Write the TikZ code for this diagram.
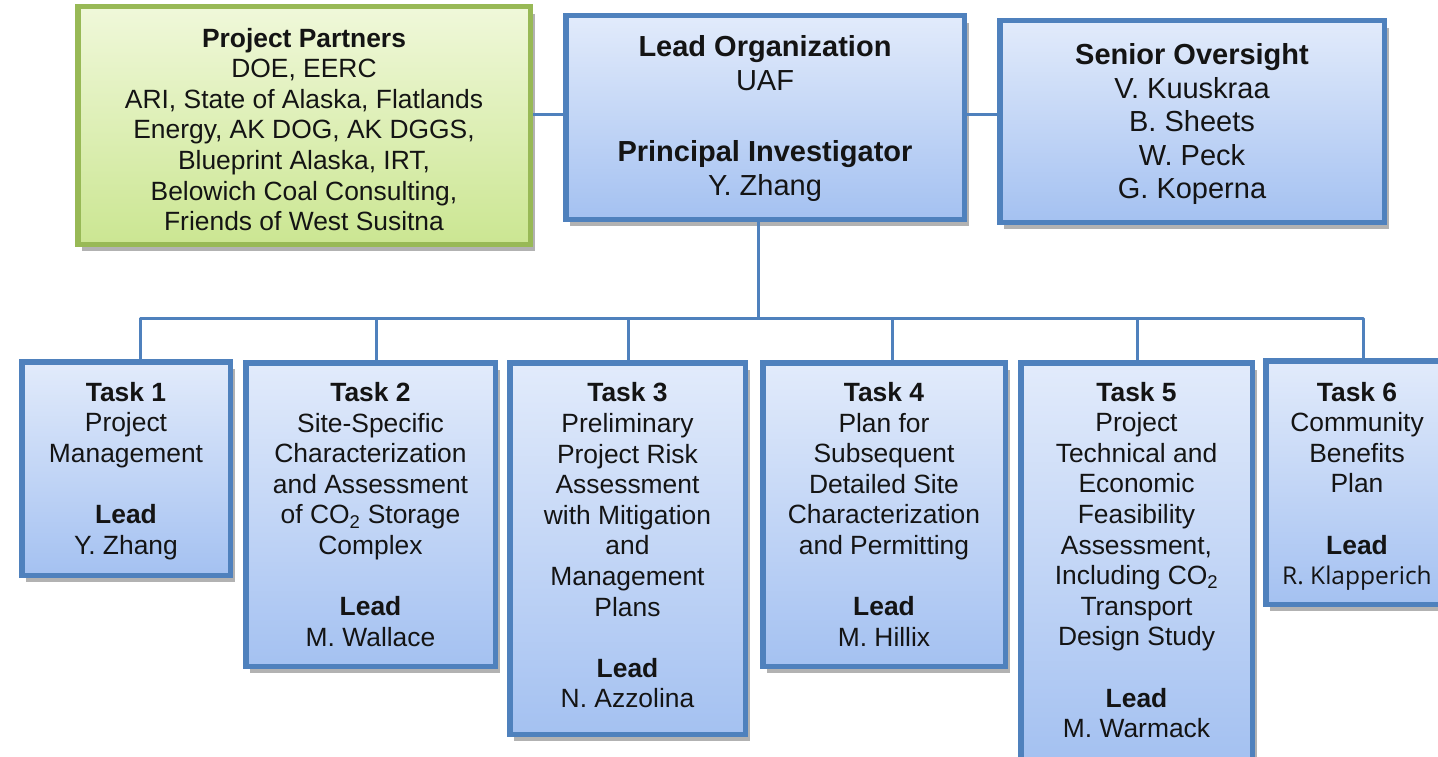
\documentclass[tikz,border=0pt]{standalone}
\usepackage{fontspec}
\setmainfont{Liberation Sans}
\newfontfamily\altsans{Open Sans}
\usetikzlibrary{shadows}

\definecolor{boxblue}{RGB}{79,129,189}
\definecolor{bluetop}{RGB}{226,235,251}
\definecolor{bluebot}{RGB}{164,193,241}
\definecolor{boxgreen}{RGB}{152,185,86}
\definecolor{greentop}{RGB}{240,248,218}
\definecolor{greenbot}{RGB}{203,230,146}

\tikzset{
  % framed, shaded boxes
  orgbox/.style={draw=boxblue, line width=5.5pt, top color=bluetop, bottom color=bluebot,
    inner sep=0pt,
    drop shadow={shadow xshift=4.5pt, shadow yshift=-7pt, fill=black!55, opacity=0.55}},
  partnerbox/.style={orgbox, draw=boxgreen, top color=greentop, bottom color=greenbot},
  % centred text blocks set over the boxes; the strut fixes the last line's depth
  boxtext/.style={align=center, inner sep=0pt, text=black!92,
    font=\fontsize{26.4}{30.6}\selectfont,
    execute at end node={\rule[-6.5pt]{0pt}{6.5pt}}},
  toptext/.style={boxtext, font=\fontsize{29}{33.5}\selectfont},
  conn/.style={draw=boxblue, line width=3pt, line join=round},
}

\begin{document}
\begin{tikzpicture}[x=1pt, y=-1pt]
\useasboundingbox (0,0) rectangle (1438,757);
\clip (0,0) rectangle (1438,757);

% upper row
\node[partnerbox, minimum width=452.5pt, minimum height=237.5pt] (partners) at (304,125.5) {};
\node[orgbox, minimum width=398.5pt, minimum height=203.5pt] (lead) at (765,117.5) {};
\node[orgbox, minimum width=384.5pt, minimum height=201.5pt] (senior) at (1192,121.5) {};

\node[boxtext] (partnerstext) at ([yshift=-7pt]partners.center)
  {\textbf{Project Partners}\\ DOE, EERC\\ ARI, State of Alaska, Flatlands\\ Energy, AK DOG, AK DGGS,\\
   Blueprint Alaska, IRT,\\ Belowich Coal Consulting,\\ Friends of West Susitna};
\node[toptext] (leadtext) at ([yshift=-1pt]lead.center)
  {\textbf{Lead Organization}\\ UAF\\[38pt] \textbf{Principal Investigator}\\ Y. Zhang};
\node[toptext] (seniortext) at ([yshift=-3pt]senior.center)
  {\textbf{Senior Oversight}\\ V. Kuuskraa\\ B. Sheets\\ W. Peck\\ G. Koperna};

% task row
\node[orgbox, minimum width=208.5pt, minimum height=213.5pt] (t1) at (126,468.5) {};
\node[orgbox, minimum width=249.5pt, minimum height=303.5pt] (t2) at (370.5,514.5) {};
\node[orgbox, minimum width=235.5pt, minimum height=371.5pt] (t3) at (627.5,548.5) {};
\node[orgbox, minimum width=242.5pt, minimum height=303.5pt] (t4) at (884,514.5) {};
\node[orgbox, minimum width=231.5pt, minimum height=396.5pt] (t5) at (1136.5,561) {};
\node[orgbox, minimum width=182.5pt, minimum height=243.5pt] (t6) at (1357,482.5) {};

\node[boxtext] (t1text) at ([yshift=-3pt]t1.center)
  {\textbf{Task 1}\\ Project\\ Management\\[30.6pt] \textbf{Lead}\\ Y. Zhang};
\node[boxtext] (t2text) at ([yshift=-3pt]t2.center)
  {\textbf{Task 2}\\ Site-Specific\\ Characterization\\ and Assessment\\ of CO\textsubscript{2} Storage\\ Complex\\[30.6pt]
   \textbf{Lead}\\ M. Wallace};
\node[boxtext] (t3text) at (t3.center)
  {\textbf{Task 3}\\ Preliminary\\ Project Risk\\ Assessment\\ with Mitigation\\ and\\ Management\\ Plans\\[30.6pt]
   \textbf{Lead}\\ N. Azzolina};
\node[boxtext] (t4text) at ([yshift=-3pt]t4.center)
  {\textbf{Task 4}\\ Plan for\\ Subsequent\\ Detailed Site\\ Characterization\\ and Permitting\\[30.6pt]
   \textbf{Lead}\\ M. Hillix};
\node[boxtext] (t5text) at ([yshift=-2pt]t5.center)
  {\textbf{Task 5}\\ Project\\ Technical and\\ Economic\\ Feasibility\\ Assessment,\\ Including CO\textsubscript{2}\\
   Transport\\ Design Study\\[30.6pt] \textbf{Lead}\\ M. Warmack};
\node[boxtext] (t6text) at ([yshift=-4pt]t6.center)
  {\textbf{Task 6}\\ Community\\ Benefits\\ Plan\\[30.6pt] \textbf{Lead}\\
   {\altsans\fontsize{24.5}{30.6}\selectfont R. Klapperich}};

% links between the upper boxes
\coordinate (ylink) at (0,115);
\draw[conn] (partners.east |- ylink) -- (lead.west |- ylink);
\draw[conn] (lead.east |- ylink) -- (senior.west |- ylink);

% trunk and bus to the tasks
\coordinate (trunk) at (758,318);
\coordinate (b1) at (140,318);
\coordinate (b2) at (376,318);
\coordinate (b3) at (628,318);
\coordinate (b4) at (892,318);
\coordinate (b5) at (1137,318);
\coordinate (b6) at (1363,318);
\draw[conn] (lead.south -| trunk) -- (trunk);
\draw[conn] (b1 |- t1.north) -- (b1) -- (b6) -- (b6 |- t6.north);
\draw[conn] (b2) -- (b2 |- t2.north);
\draw[conn] (b3) -- (b3 |- t3.north);
\draw[conn] (b4) -- (b4 |- t4.north);
\draw[conn] (b5) -- (b5 |- t5.north);
\end{tikzpicture}
\end{document}
